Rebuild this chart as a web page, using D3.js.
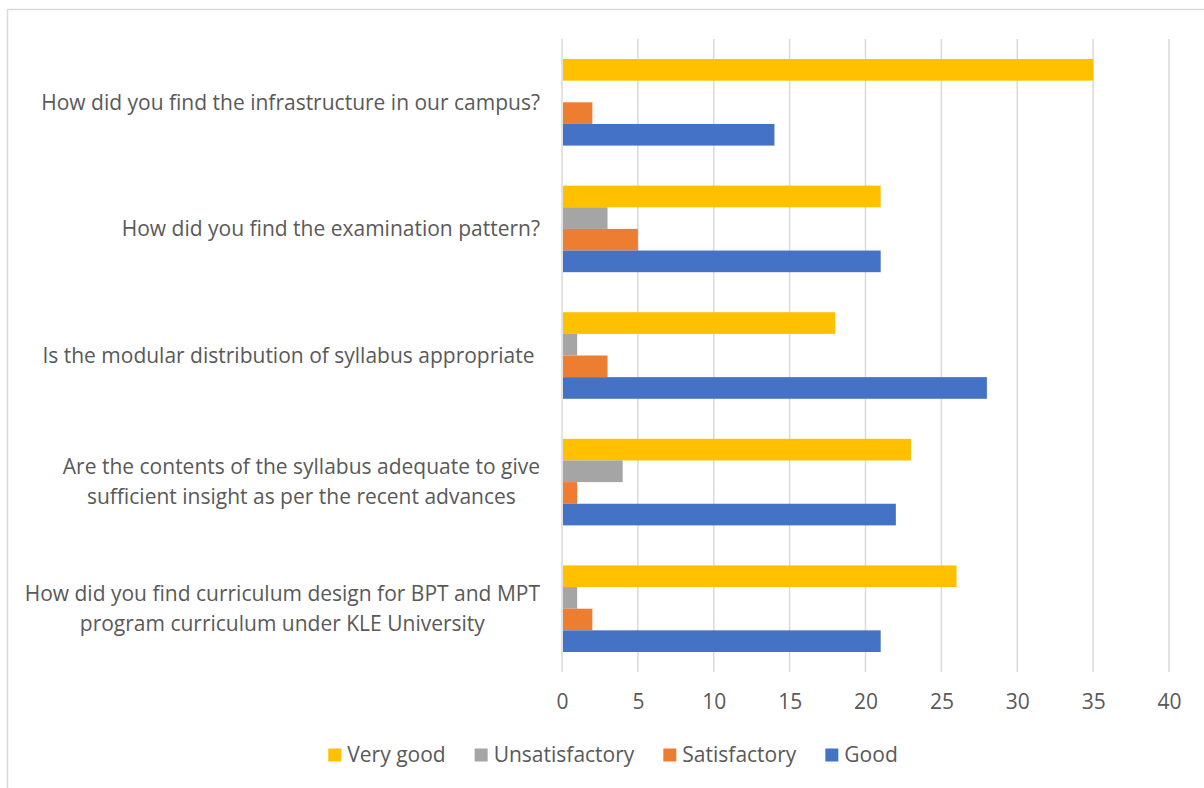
<!DOCTYPE html>
<html>
<head>
<meta charset="utf-8">
<script src="https://cdn.jsdelivr.net/npm/d3@7"></script>
<style>
  html, body { margin: 0; padding: 0; background: #fff; }
  svg { display: block; }
  text { font-family: "Open Sans", sans-serif; fill: #595959; }
</style>
</head>
<body>
<svg id="chart" width="1204" height="788"></svg>
<script>
const categories = [
  ["How did you find the infrastructure in our campus?"],
  ["How did you find the examination pattern?"],
  ["Is the modular distribution of syllabus appropriate "],
  ["Are the contents of the syllabus adequate to give", "sufficient insight as per the recent advances"],
  ["How did you find curriculum design for BPT and MPT", "program curriculum under KLE University"]
];
const seriesNames = ["Very good", "Unsatisfactory", "Satisfactory", "Good"];
const seriesColors = ["#FFC000", "#A5A5A5", "#ED7D31", "#4472C4"];
const veryGood       = [35, 21, 18, 23, 26];
const unsatisfactory = [0, 3, 1, 4, 1];
const satisfactory   = [2, 5, 3, 1, 2];
const good           = [14, 21, 28, 22, 21];
const xTicks = [0, 5, 10, 15, 20, 25, 30, 35, 40];

const seriesValues = [veryGood, unsatisfactory, satisfactory, good];
const svg = d3.select("#chart");
const FS = "21px";

// chart frame
svg.append("rect")
  .attr("x", 7.5).attr("y", 9.5)
  .attr("width", 1230).attr("height", 800)
  .attr("fill", "none").attr("stroke", "#d9d9d9").attr("stroke-width", 1.5);

const plot = { left: 562, right: 1169, top: 39, bottom: 672 };
const x = d3.scaleLinear().domain([0, 40]).range([plot.left, plot.right]);
const catIdx = categories.map((d, i) => i);
const y0 = d3.scaleBand().domain(catIdx).range([plot.top, plot.bottom]).padding(0);
const y1 = d3.scaleBand().domain(seriesNames).range([0, y0.bandwidth()])
  .paddingInner(0).paddingOuter(0.925);

// gridlines
svg.append("g").selectAll("line").data(xTicks).join("line")
  .attr("x1", d => x(d)).attr("x2", d => x(d))
  .attr("y1", plot.top).attr("y2", plot.bottom)
  .attr("stroke", "#d9d9d9").attr("stroke-width", 1.5);

// bars
const groups = svg.append("g").selectAll("g").data(catIdx).join("g")
  .attr("transform", i => `translate(0,${y0(i)})`);
groups.selectAll("rect")
  .data(i => seriesNames.map((s, k) => ({ s, k, v: seriesValues[k][i] })))
  .join("rect")
  .attr("x", x(0) + 1)
  .attr("y", d => y1(d.s))
  .attr("height", y1.bandwidth())
  .attr("width", d => Math.max(0, x(d.v) - x(0) - (d.v > 0 ? 1 : 0)))
  .attr("fill", d => seriesColors[d.k]);

// x axis
const xAxis = d3.axisBottom(x).tickValues(xTicks).tickSize(0).tickPadding(0);
const gx = svg.append("g").attr("transform", `translate(0,${plot.bottom})`).call(xAxis);
gx.select(".domain").remove();
gx.selectAll("text")
  .attr("y", 30).attr("dy", "0.35em")
  .style("font-size", FS).style("font-family", "'Open Sans', sans-serif").attr("fill", "#595959");

// category labels
const labelRight = 540;
const lineH = 30;
catIdx.forEach(i => {
  const lines = categories[i];
  const cy = y0(i) + y0.bandwidth() / 2;
  const g = svg.append("g");
  const texts = lines.map((t, j) => g.append("text")
    .style("white-space", "pre")
    .style("font-size", FS)
    .attr("dy", "0.35em")
    .attr("y", cy + (j - (lines.length - 1) / 2) * lineH)
    .text(t));
  const widths = texts.map(t => t.node().getComputedTextLength());
  const maxW = Math.max(...widths);
  texts.forEach(t => t.attr("text-anchor", "middle").attr("x", labelRight - maxW / 2));
});

// legend
const legend = svg.append("g");
const legendY = 755;
const items = legend.selectAll("g").data(seriesNames).join("g");
items.append("rect").attr("width", 13).attr("height", 13).attr("y", legendY - 6.5)
  .attr("fill", (d, k) => seriesColors[k]);
items.append("text").attr("x", 19).attr("y", legendY).attr("dy", "0.35em")
  .style("font-size", FS).text(d => d);
let cx = 0;
const offs = [];
items.each(function() {
  const w = d3.select(this).select("text").node().getComputedTextLength();
  offs.push(cx);
  cx += 19 + w + 29;
});
const totalW = cx - 29;
const startX = 613 - totalW / 2;
items.attr("transform", (d, k) => `translate(${startX + offs[k]},0)`);
</script>
</body>
</html>
